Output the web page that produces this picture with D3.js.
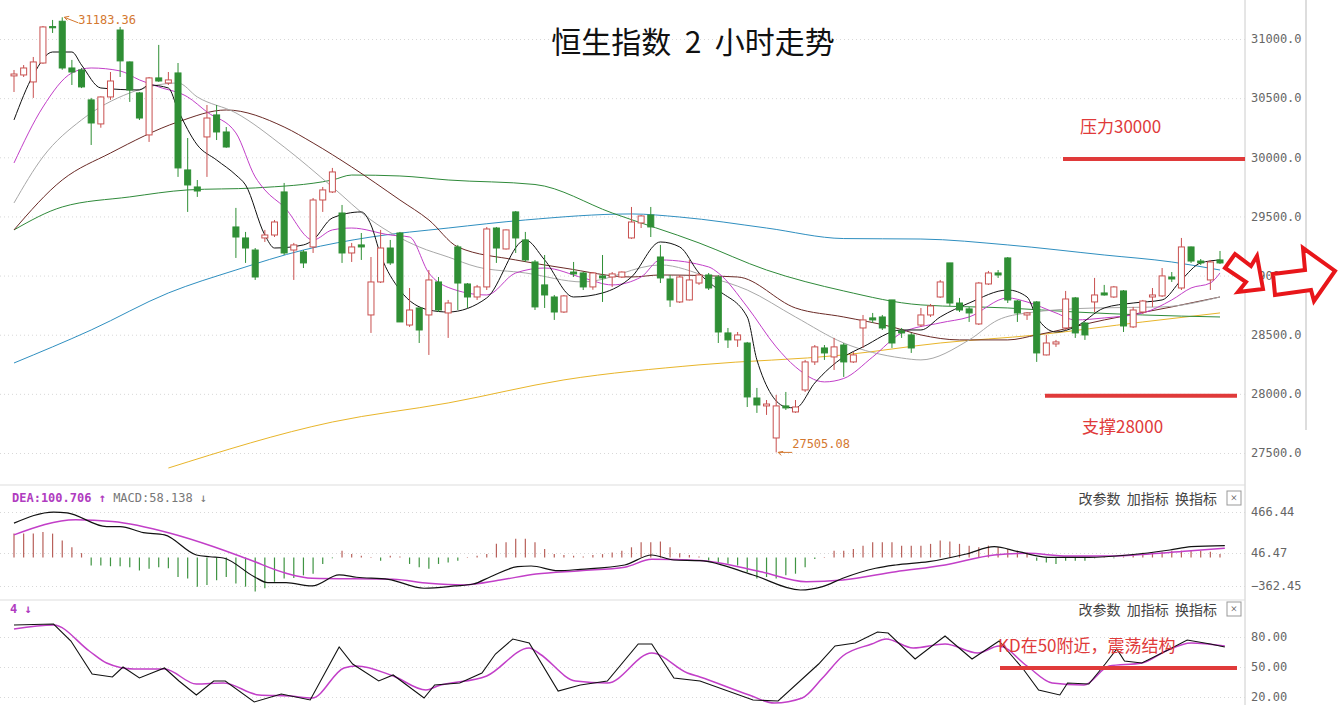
<!DOCTYPE html>
<html><head><meta charset="utf-8">
<script src="https://cdn.jsdelivr.net/npm/d3@7"></script>
<style>body{margin:0;background:#fff}svg{display:block}</style>
</head><body>
<svg id="c" width="1338" height="705"></svg>
<script>
// candle data (2h bars), red = up (hollow), green = down (filled)
const opens = [30688,30696,30637,30797,31105,31150,30755,30738,30485,30282,30510,31076,30806,30544,30189,30671,30628,30713,29893,29749,30172,30358,30214,29411,29318,29216,29318,29343,29707,29216,29200,29242,29639,29707,29529,29191,29259,28667,28946,29233,29360,28582,28726,28667,28946,28684,29242,28929,28819,28904,29402,29225,29538,29301,29115,28921,28819,28692,29030,29022,28904,28997,28988,28988,29318,29445,29512,29157,28971,28777,28794,28937,29005,28988,28515,28456,28430,27965,27898,27627,27898,27847,28033,28270,28388,28312,28413,28270,28557,28642,28650,28794,28532,28498,28582,28667,28819,29107,28768,28718,28591,28929,29022,29149,28785,28667,28777,28329,28422,28557,28811,28599,28777,28853,28819,28870,28566,28692,28819,28828,28988,28895,29242,29123,28963,29132];
const closes = [30704,30755,30806,31102,31095,30755,30721,30595,30290,30510,30645,30815,30569,30332,30671,30645,30654,29910,29766,29715,30332,30214,30087,29326,29233,28988,29343,29453,29191,29259,29107,29639,29724,29876,29191,29242,29242,28946,29233,29107,28608,28709,28540,28963,28709,28768,28937,28819,28904,29394,29233,29386,29318,29132,28735,28836,28692,28828,29014,28904,29022,28980,29014,29030,29453,29504,29411,28980,28794,28988,28963,29005,28895,28523,28456,28498,27974,27906,27914,27898,27881,27889,28270,28397,28346,28397,28270,28329,28625,28625,28557,28430,28515,28388,28667,28743,28946,28768,28709,28684,28937,29022,29005,28794,28684,28684,28346,28430,28439,28802,28515,28498,28836,28836,28904,28574,28709,28785,28836,28997,28971,29242,29123,29107,29115,29107];
const highs = [30738,30780,30848,31110,31161,31183.36,30823,30755,30502,30515,30721,31102,30810,30552,30679,30950,30721,30797,30163,29808,30442,30442,30256,29572,29369,29233,29386,29470,29783,29276,29216,29656,29749,29910,29597,29276,29360,29157,29386,29301,29369,28895,28730,29047,28988,28794,29259,28937,28921,29411,29411,29390,29546,29369,29132,29174,28836,28836,29115,29030,29030,29174,29030,29035,29580,29512,29580,29259,29005,29005,29132,29022,29022,29005,28557,28523,28439,28050,27948,27991,28016,27948,28287,28413,28413,28473,28430,28354,28667,28684,28667,28794,28557,28515,28726,28760,28963,29107,28811,28735,28946,29039,29047,29157,28794,28692,28785,28498,28456,28870,28819,28608,28980,28921,28912,28878,28735,28794,28895,29064,29030,29318,29245,29140,29132,29208];
const lows = [30552,30679,30502,30790,31051,30740,30611,30585,30104,30250,30485,30679,30468,30315,30130,30637,30611,29834,29538,29665,29834,30146,30080,29149,29107,28963,29284,29326,29174,28963,29064,29191,29538,29698,29107,29115,29132,28515,28937,29090,28608,28566,28430,28329,28692,28473,28709,28726,28794,28878,29107,29220,29191,29115,28709,28726,28625,28684,28988,28878,28880,28777,28904,28980,29310,29402,29326,28937,28735,28768,28790,28921,28878,28430,28388,28397,27889,27839,27822,27505.08,27864,27839,28016,28244,28287,28202,28143,28261,28388,28599,28540,28388,28473,28346,28566,28650,28811,28743,28692,28608,28582,28921,28980,28768,28608,28625,28270,28325,28397,28540,28473,28456,28692,28830,28811,28523,28557,28675,28735,28819,28946,28878,29107,29090,28878,29098];

// moving averages as [bar index, value]
const ma5 = [[0,30316],[2,30696],[4,30890],[6,30890],[7,30780],[9,30586],[13,30569],[14,30611],[16,30586],[17,30400],[19,30104],[21,29977],[23,29850],[24,29766],[26,29343],[27,29233],[30,29259],[31,29301],[33,29487],[36,29538],[37,29428],[38,29174],[40,28878],[43,28709],[45,28692],[49,28811],[53,29301],[55,29132],[58,28819],[61,28853],[64,28988],[67,29284],[69,29242],[71,29022],[73,28878],[76,28650],[77,28287],[80,27889],[81,27881],[83,28092],[86,28312],[88,28397],[92,28540],[94,28540],[96,28650],[99,28768],[103,28878],[105,28819],[106,28650],[108,28523],[110,28566],[113,28726],[116,28768],[119,28794],[121,28963],[123,29107],[125,29132]];
const ma10 = [[0,29952],[3,30425],[6,30713],[8,30755],[11,30730],[13,30654],[15,30595],[18,30510],[20,30383],[23,30206],[25,29834],[26,29724],[28,29580],[31,29301],[33,29386],[35,29402],[39,29343],[41,29326],[43,29022],[45,28900],[49,28836],[52,29022],[55,29064],[59,28980],[62,28921],[65,28988],[67,29132],[72,29073],[73,29022],[76,28735],[79,28397],[81,28228],[84,28101],[86,28130],[89,28312],[92,28515],[96,28600],[99,28650],[103,28811],[105,28777],[108,28684],[110,28625],[113,28642],[117,28684],[120,28794],[122,28895],[124,28937],[125,29022]];
const ma20 = [[0,29614],[3,30003],[7,30316],[12,30544],[17,30628],[19,30510],[23,30375],[28,30087],[33,29749],[37,29470],[42,29242],[45,29157],[48,29073],[53,29022],[59,28946],[67,29090],[72,28988],[76,28878],[81,28650],[86,28430],[92,28303],[94,28287],[99,28456],[102,28625],[105,28684],[112,28726],[119,28735],[125,28819]];
const ma30 = [[0,29386],[5,29808],[10,30036],[17,30299],[22,30400],[28,30256],[31,30121],[35,29918],[40,29639],[43,29470],[46,29242],[52,29132],[57,29064],[64,28988],[67,29005],[75,28988],[81,28726],[86,28650],[91,28566],[94,28498],[98,28456],[103,28456],[106,28498],[113,28625],[120,28735],[125,28819]];
const ma60 = [[0,29386],[5,29580],[12,29665],[18,29724],[25,29741],[33,29808],[35,29850],[40,29842],[45,29808],[54,29770],[62,29529],[71,29276],[78,29047],[86,28870],[94,28752],[103,28726],[110,28692],[117,28667],[125,28650]];
const ma120 = [[0,28261],[8,28540],[16,28853],[23,29047],[30,29216],[37,29326],[45,29402],[53,29470],[64,29521],[69,29495],[78,29402],[86,29313],[94,29309],[103,29259],[113,29174],[120,29115],[125,29047]];
const ma250 = [[16,27373],[33,27762],[45,27923],[57,28118],[71,28245],[86,28329],[96,28430],[106,28498],[117,28608],[125,28684]];

// MACD
const macdHist = [245,245,245,262,245,175,105,45,-103,-103,-111,-111,-123,-165,-144,-123,-136,-247,-268,-371,-350,-288,-247,-330,-371,-433,-392,-309,-268,-260,-227,-206,-82,-10,70,35,18,5,-41,18,10,-82,-123,-144,-82,-62,-41,5,18,35,140,157,192,192,157,87,35,25,18,10,25,35,52,70,105,157,157,164,105,45,25,10,-41,-60,-80,-103,-185,-268,-248,-268,-227,-206,-124,-20,5,70,70,87,122,157,157,157,122,122,122,140,175,164,140,122,105,122,105,87,70,52,-41,-62,-82,-41,-41,-41,-10,5,-8,10,35,50,52,60,70,70,70,70,60,35];
const dif = [[0,352],[4.1,466],[5.5,458],[9.6,317],[11,317],[13.4,255],[15.6,232],[18.9,26],[20.3,8],[21.7,-6],[24.9,-244],[26.3,-320],[28.2,-320],[30.9,-362],[33.7,-222],[35.5,-251],[38.8,-277],[42.5,-391],[45.7,-362],[47.6,-337],[49.4,-244],[52.2,-117],[53.6,-108],[56.4,-168],[58.7,-150],[63.3,-95],[66.1,26],[68.4,-32],[71.1,-40],[76.6,-222],[81.5,-413],[83.8,-370],[85.9,-264],[89.3,-137],[91.4,-95],[94.8,-53],[98.7,36],[101.6,111],[104.1,60],[107.2,2],[111.4,2],[115.5,26],[119.8,77],[122,111],[125.5,122]];
const dea = [[0,232],[6.4,386],[10.2,369],[16.2,249],[20.7,111],[24.5,-32],[28.2,-200],[30.9,-264],[39.3,-277],[43,-328],[46.6,-349],[50.4,-286],[54.1,-210],[58.7,-168],[63.3,-124],[66.1,-23],[71.1,-38],[77.4,-180],[82.1,-307],[85.9,-286],[91.4,-180],[96.5,-95],[101.6,26],[105,43],[109.2,15],[113.5,15],[117.7,36],[122,70],[125.5,95]];
const macdTicks = [466.44, 46.47, -362.45];

// KD
const kLine = [[0,92],[4.1,93],[5.9,76],[8.1,43],[10.2,40],[11.3,50],[13,39],[15.6,49],[17.1,36],[18.9,22],[20.7,36],[21.9,36],[24.9,15],[27.7,23],[30.7,17],[33.7,70],[35.1,53],[37.8,36],[39.3,42],[42.5,19],[43.6,32],[46.2,34],[48.5,44],[49.9,63],[51.7,78],[53.4,74],[56.4,26],[58.7,32],[61.5,36],[64.7,73],[66.1,73],[68.4,39],[71.1,36],[76.6,17],[79.2,16],[83.4,53],[85.1,71],[87.2,74],[89.5,85],[90.6,84],[93.4,58],[96.5,81],[99.3,58],[102.1,76],[104.6,48],[106.2,27],[108.4,22],[109.2,34],[111.4,33],[113.1,53],[114.3,68],[115.1,56],[116.9,54],[119.4,66],[121.6,77],[124,73],[125.5,70]];
const dLine = [[0,88],[4.1,92],[7.8,66],[9.6,54],[12.4,48],[15.6,48],[18.9,33],[21.7,34],[25.4,22],[28.6,21],[30.9,19],[34.2,49],[35.5,51],[39.3,41],[42.7,27],[43.9,31],[49,41],[53.4,69],[54.5,63],[58.2,36],[61.5,34],[66.1,64],[69.8,44],[71.1,40],[76.2,22],[78.8,14],[81.7,19],[83.8,39],[85.9,61],[88.9,73],[90.4,78],[93.2,69],[96.5,73],[99.9,64],[102.1,71],[105,51],[107.6,34],[110.9,32],[113.5,51],[116.9,54],[119.4,66],[122,74],[125.5,71]];
const kdTicks = [80, 50, 20];
const priceTicks = [27500, 28000, 28500, 29000, 29500, 30000, 30500, 31000];

const svg = d3.select("#c");
const red = "#c8504f", green = "#2f8f35", grid = "#d8d8d8";
const plotRight = 1245;

const x = d3.scaleLinear().domain([0, 125]).range([14, 1220]);
const y = d3.scaleLinear().domain([27500, 31000]).range([453, 39]);
const ym = d3.scaleLinear().domain([-362.45, 0, 46.47, 466.44]).range([586, 557.5, 553, 512]);
const yk = d3.scaleLinear().domain([20, 80]).range([697, 637]);

// panel frames
svg.append("line").attr("x1", plotRight).attr("x2", plotRight).attr("y1", 0).attr("y2", 705).attr("stroke", "#ccc");
svg.append("line").attr("x1", 1306).attr("x2", 1306).attr("y1", 0).attr("y2", 430).attr("stroke", "#ddd").attr("stroke-width", 2);
[485, 600].forEach(v => svg.append("line").attr("x1", 0).attr("x2", plotRight).attr("y1", v).attr("y2", v).attr("stroke", "#ddd"));

// axes (right side)
const axisFont = g => {
  g.select(".domain").remove();
  g.selectAll(".tick line").attr("x1", -plotRight).attr("x2", 0).attr("stroke", grid).attr("stroke-dasharray", "1,3");
  g.selectAll(".tick text").attr("x", 6).attr("fill", "#666").attr("font-size", 12).attr("font-family", "DejaVu Sans Mono");
};
svg.append("g").attr("transform", `translate(${plotRight},0)`)
  .call(d3.axisRight(y).tickValues(priceTicks).tickSize(0).tickFormat(d3.format(".1f"))).call(axisFont);
svg.append("g").attr("transform", `translate(${plotRight},0)`)
  .call(d3.axisRight(ym).tickValues(macdTicks).tickSize(0).tickFormat(d3.format(".2f"))).call(axisFont);
svg.append("g").attr("transform", `translate(${plotRight},0)`)
  .call(d3.axisRight(yk).tickValues(kdTicks).tickSize(0).tickFormat(d3.format(".2f"))).call(axisFont);

// moving averages
const maLine = sc => d3.line().x(d => x(d[0])).y(d => sc(d[1])).curve(d3.curveMonotoneX);
[[ma250, "#e8b52a"], [ma120, "#2f8fc0"], [ma60, "#2f8a3a"], [ma30, "#6a2a26"], [ma20, "#a8a8a8"], [ma10, "#c23fc8"], [ma5, "#111"]]
  .forEach(([d, c]) => svg.append("path").datum(d).attr("d", maLine(y)).attr("fill", "none").attr("stroke", c).attr("stroke-width", 1));

// candles
const bw = 7;
const candles = svg.append("g").selectAll("g").data(opens.map((o, i) => ({ i, o, c: closes[i], h: highs[i], l: lows[i] })))
  .join("g");
candles.append("line").attr("x1", d => x(d.i)).attr("x2", d => x(d.i))
  .attr("y1", d => y(d.h)).attr("y2", d => y(d.l))
  .attr("stroke", d => d.c >= d.o ? red : green);
candles.append("rect").attr("x", d => x(d.i) - bw / 2 + 0.5).attr("width", bw - 1)
  .attr("y", d => y(Math.max(d.o, d.c))).attr("height", d => Math.max(1, Math.abs(y(d.o) - y(d.c))))
  .attr("fill", d => d.c >= d.o ? "#fff" : green).attr("stroke", d => d.c >= d.o ? red : green);

// high / low labels
const hiIdx = highs.indexOf(d3.max(highs)), loIdx = lows.indexOf(d3.min(lows));
const marks = [[hiIdx, highs[hiIdx], 16, 7, "31183.36"], [loIdx, lows[loIdx], 16, -4, "27505.08"]];
marks.forEach(([i, v, dx, dy, t]) => {
  const px = x(i), py = y(v);
  svg.append("path").attr("d", `M${px + 2},${py} L${px + dx},${py + dy / 2 + 2}`).attr("stroke", "#d4782f").attr("fill", "none");
  svg.append("path").attr("d", `M${px + 2},${py} l5,-1 M${px + 2},${py} l3,3`).attr("stroke", "#d4782f");
  svg.append("text").attr("x", px + dx).attr("y", py + dy).attr("fill", "#d4782f").attr("font-size", 12)
    .attr("font-family", "DejaVu Sans Mono").text(t);
});

// MACD panel
svg.append("g").selectAll("line").data(macdHist).join("line")
  .attr("x1", (d, i) => x(i)).attr("x2", (d, i) => x(i))
  .attr("y1", ym(0)).attr("y2", d => ym(d))
  .attr("stroke", d => d >= 0 ? "#b8605a" : "#3f9442").attr("stroke-width", 1.2);
svg.append("path").datum(dea).attr("d", maLine(ym)).attr("fill", "none").attr("stroke", "#c23fc8").attr("stroke-width", 1.5);
svg.append("path").datum(dif).attr("d", maLine(ym)).attr("fill", "none").attr("stroke", "#111").attr("stroke-width", 1.2);

// KD panel
svg.append("path").datum(dLine).attr("d", maLine(yk)).attr("fill", "none").attr("stroke", "#c23fc8").attr("stroke-width", 1.5);
svg.append("path").datum(kLine).attr("d", d3.line().x(d => x(d[0])).y(d => yk(d[1]))).attr("fill", "none").attr("stroke", "#111").attr("stroke-width", 1.1);

// panel headers
const hdr = svg.append("text").attr("x", 12).attr("y", 502).attr("font-size", 12).attr("font-family", "DejaVu Sans Mono");
hdr.append("tspan").attr("fill", "#b03cc0").attr("font-weight", "bold").text("DEA:100.706 ↑");
hdr.append("tspan").attr("fill", "#777").text(" MACD:58.138 ↓");
svg.append("text").attr("x", 10).attr("y", 613).attr("font-size", 12).attr("font-family", "DejaVu Sans Mono")
  .attr("fill", "#b03cc0").attr("font-weight", "bold").text("4 ↓");
[504, 615].forEach(yy => {
  svg.append("text").attr("x", 1217).attr("y", yy).attr("text-anchor", "end").attr("font-size", 14)
    .attr("font-family", "Noto Sans CJK SC").attr("fill", "#444").attr("xml:space", "preserve").text("改参数  加指标  换指标");
  svg.append("rect").attr("x", 1227).attr("y", yy - 13).attr("width", 14).attr("height", 14).attr("fill", "#fff").attr("stroke", "#999");
  svg.append("text").attr("x", 1234).attr("y", yy - 2).attr("text-anchor", "middle").attr("font-size", 12).attr("fill", "#555").text("×");
});

// title
svg.append("text").attr("x", 693).attr("y", 53).attr("text-anchor", "middle").attr("font-size", 30)
  .attr("font-family", "Noto Sans CJK SC").attr("fill", "#111").attr("xml:space", "preserve").text("恒生指数  2  小时走势");

// annotations
const ann = "#e03a3a";
const note = (t, tx, ty, x1, x2, ly) => {
  svg.append("text").attr("x", tx).attr("y", ty).attr("fill", ann).attr("font-size", 17)
    .attr("font-family", "Noto Sans CJK SC").text(t);
  svg.append("line").attr("x1", x1).attr("x2", x2).attr("y1", ly).attr("y2", ly).attr("stroke", ann).attr("stroke-width", 4);
};
note("压力30000", 1080, 133, 1063, 1245, y(29985));
note("支撑28000", 1082, 433, 1045, 1237, y(27985));
note("KD在50附近，震荡结构", 998, 652, 1000, 1237, yk(49));

// arrows
const arrowStyle = p => p.attr("fill", "#fff").attr("stroke", "#e8161a").attr("stroke-width", 4).attr("stroke-linejoin", "miter");
arrowStyle(svg.append("polygon").attr("points", "1225,268 1235,254 1251,266 1257,256 1263,289 1238,292 1246,282"));
arrowStyle(svg.append("polygon").attr("points", "1273,274 1305,270 1303,248 1335,271 1314,301 1311,290 1275,295"));
</script>
</body></html>
